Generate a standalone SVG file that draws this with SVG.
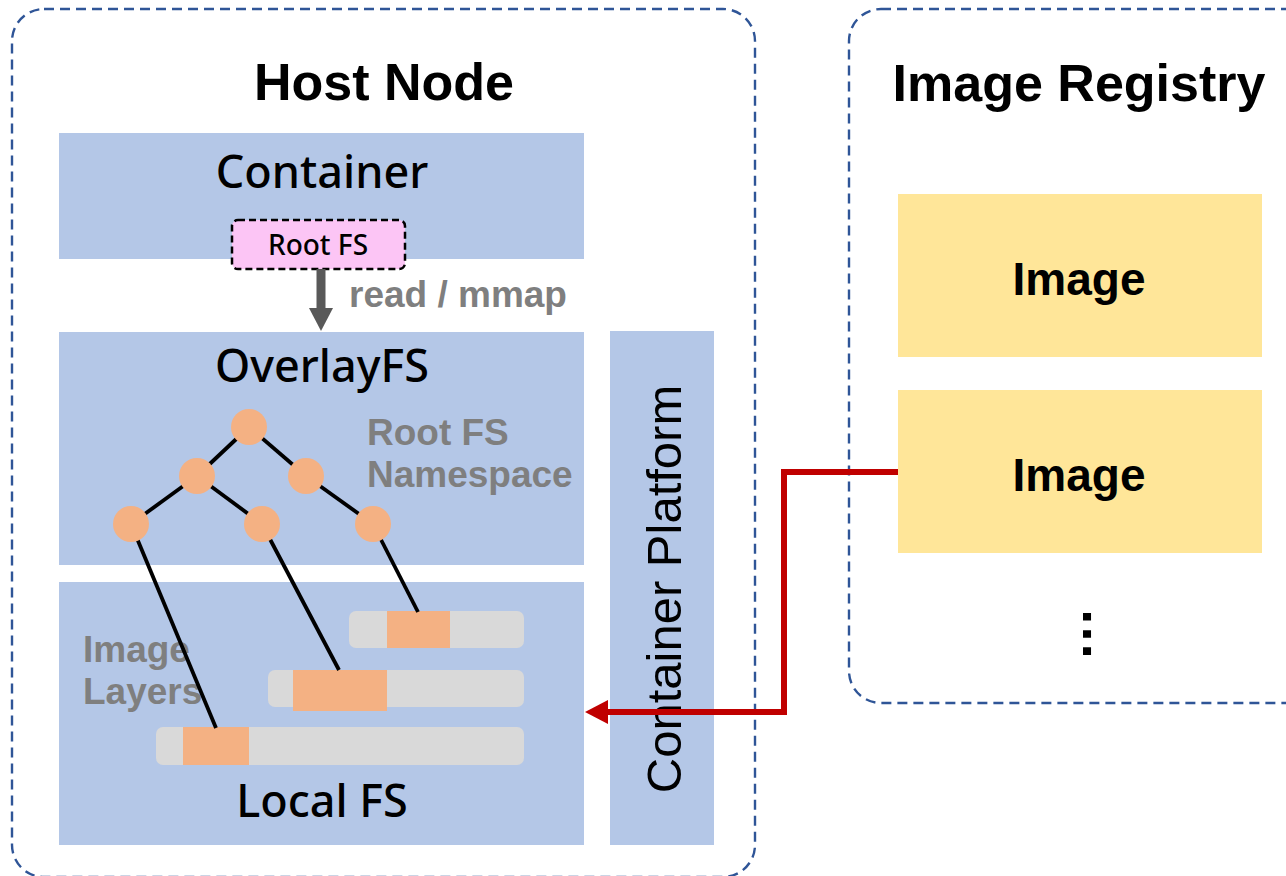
<svg xmlns="http://www.w3.org/2000/svg" width="1286" height="876" viewBox="0 0 1286 876">
  <style>
    .frame { fill: none; stroke: #2F5597; stroke-width: 2.4; stroke-dasharray: 10 6; }
    .panel { fill: #B4C7E7; }
    .title { font-family: "Liberation Sans", Arial, sans-serif; font-weight: bold; font-size: 52px; fill: #000; text-anchor: middle; }
    .layer-title { font-family: "Noto Sans", "Liberation Sans", sans-serif; font-weight: 500; font-size: 45px; fill: #000; text-anchor: middle; }
    .note { font-family: "Liberation Sans", Arial, sans-serif; font-weight: bold; font-size: 37px; fill: #7F7F7F; }
    .image-box { fill: #FFE699; }
    .image-label { font-family: "Liberation Sans", Arial, sans-serif; font-weight: bold; font-size: 46px; fill: #000; text-anchor: middle; }
    .tree-edge { stroke: #000; stroke-width: 3.8; fill: none; }
    .tree-node { fill: #F4B183; }
    .bar { fill: #D9D9D9; }
    .chunk { fill: #F4B183; }
  </style>

  <rect width="1286" height="876" fill="#FFFFFF"/>

  <!-- Host node frame -->
  <g id="host-node">
    <rect class="frame" x="12" y="9" width="743" height="868" rx="32" ry="32"/>
    <text class="title" x="384" y="100">Host Node</text>
  </g>

  <!-- Registry frame -->
  <g id="image-registry">
    <rect class="frame" x="849" y="9" width="480" height="694" rx="32" ry="32"/>
    <text class="title" x="1079" y="101">Image Registry</text>
  </g>

  <!-- Container layer -->
  <g id="container">
    <rect class="panel" x="59" y="133" width="525" height="126"/>
    <text class="layer-title" x="322" y="188">Container</text>
  </g>

  <!-- Root FS handle inside container -->
  <g id="root-fs">
    <rect x="232" y="220" width="173" height="49" rx="6" ry="6" fill="#FCC5F5" stroke="#000" stroke-width="2.5" stroke-dasharray="7 4"/>
    <text x="318" y="255" font-family="Noto Sans, Liberation Sans, sans-serif" font-weight="500" font-size="28" text-anchor="middle" fill="#000">Root FS</text>
  </g>

  <!-- OverlayFS layer -->
  <g id="overlayfs">
    <rect class="panel" x="59" y="332" width="525" height="233"/>
    <text class="layer-title" x="322" y="382">OverlayFS</text>
    <text class="note" x="367" y="445">Root FS</text>
    <text class="note" x="367" y="487">Namespace</text>
  </g>

  <!-- Local FS layer -->
  <g id="local-fs">
    <rect class="panel" x="59" y="582" width="525" height="263"/>
    <text class="note" x="83" y="662">Image</text>
    <text class="note" x="83" y="704">Layers</text>
    <text class="layer-title" x="322" y="817">Local FS</text>
  </g>

  <!-- Image layer bars -->
  <g id="layer-top">
    <rect class="bar" x="349" y="611" width="175" height="37" rx="7" ry="7"/>
    <rect class="chunk" x="387" y="611" width="63" height="37"/>
  </g>
  <g id="layer-middle">
    <rect class="bar" x="268" y="670" width="256" height="37" rx="7" ry="7"/>
    <rect class="chunk" x="293" y="670" width="94" height="41"/>
  </g>
  <g id="layer-bottom">
    <rect class="bar" x="156" y="727" width="368" height="38" rx="7" ry="7"/>
    <rect class="chunk" x="183" y="727" width="66" height="38"/>
  </g>

  <!-- Container platform column -->
  <g id="container-platform">
    <rect class="panel" x="610" y="331" width="104" height="514"/>
    <text transform="translate(681,589) rotate(-90)" x="0" y="0" font-family="Liberation Sans, Arial, sans-serif" font-size="49" text-anchor="middle" fill="#000">Container Platform</text>
  </g>

  <!-- Registry images -->
  <g id="image-1">
    <rect class="image-box" x="898" y="194" width="364" height="163"/>
    <text class="image-label" x="1079" y="295">Image</text>
  </g>
  <g id="image-2">
    <rect class="image-box" x="898" y="390" width="364" height="163"/>
    <text class="image-label" x="1079" y="491">Image</text>
  </g>
  <g id="more-images">
    <text transform="translate(1083,634) rotate(90)" x="0" y="0" font-family="Liberation Sans, Arial, sans-serif" font-weight="bold" font-size="54" text-anchor="middle" fill="#000">…</text>
  </g>

  <!-- Connectors -->
  <g id="connectors">
    <!-- namespace tree edges -->
    <line class="tree-edge" x1="249" y1="427" x2="197" y2="476"/>
    <line class="tree-edge" x1="249" y1="427" x2="306" y2="476"/>
    <line class="tree-edge" x1="197" y1="476" x2="131" y2="524"/>
    <line class="tree-edge" x1="197" y1="476" x2="262" y2="524"/>
    <line class="tree-edge" x1="306" y1="476" x2="373" y2="524"/>
    <!-- tree leaves down to layer chunks -->
    <line class="tree-edge" x1="131" y1="524" x2="216" y2="728"/>
    <line class="tree-edge" x1="262" y1="524" x2="339" y2="670"/>
    <line class="tree-edge" x1="373" y1="524" x2="418" y2="612"/>
    <!-- read / mmap -->
    <line x1="321" y1="269" x2="321" y2="310" stroke="#595959" stroke-width="9"/>
    <path d="M309,308 L333,308 L321,331 Z" fill="#595959"/>
    <text class="note" x="349" y="307">read / mmap</text>
    <!-- image pull path -->
    <polyline points="898,472 784,472 784,712 604,712" fill="none" stroke="#C00000" stroke-width="6"/>
    <path d="M585,712 L608,700 L608,724 Z" fill="#C00000"/>
  </g>

  <!-- Namespace tree nodes -->
  <g id="tree-nodes">
    <circle class="tree-node" cx="249" cy="427" r="18"/>
    <circle class="tree-node" cx="197" cy="476" r="18"/>
    <circle class="tree-node" cx="306" cy="476" r="18"/>
    <circle class="tree-node" cx="131" cy="524" r="18"/>
    <circle class="tree-node" cx="262" cy="524" r="18"/>
    <circle class="tree-node" cx="373" cy="524" r="18"/>
  </g>
</svg>
